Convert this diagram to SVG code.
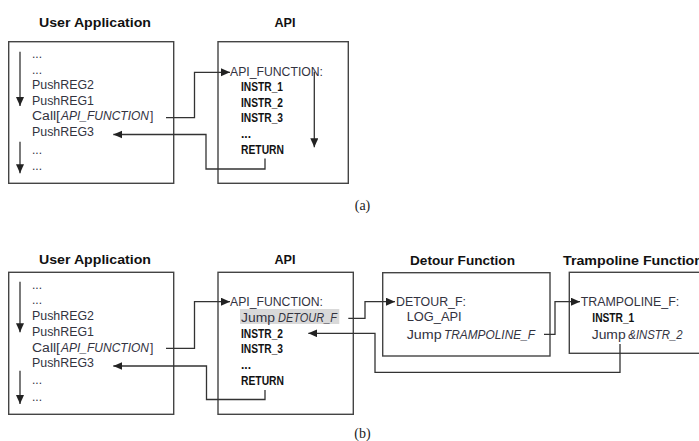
<svg xmlns="http://www.w3.org/2000/svg" width="699" height="441" viewBox="0 0 699 441">
<style>
.box{fill:#fff;stroke:#444;stroke-width:1.4}
.t{font-family:"Liberation Sans",Arial,sans-serif;font-size:12px;fill:#33333f}
.b{font-family:"Liberation Sans",Arial,sans-serif;font-size:12px;font-weight:bold;fill:#111}
.h{font-family:"Liberation Sans",Arial,sans-serif;font-size:13px;font-weight:bold;fill:#111}
.i{font-style:italic}
.c{fill:none;stroke:#333;stroke-width:1.3}
.cap{font-family:"Liberation Serif","Times New Roman",serif;font-size:14px;fill:#222}
</style>
<defs>
<marker id="ah" markerUnits="userSpaceOnUse" markerWidth="10" markerHeight="9" refX="9" refY="4" orient="auto">
<path d="M0,0 L9,4 L0,8 z" fill="#222"/>
</marker>
</defs>
<rect width="699" height="441" fill="#fff"/>

<!-- (a) -->
<g id="userapp-a">
<text class="h" x="39" y="27" textLength="112" lengthAdjust="spacingAndGlyphs">User Application</text>
<rect class="box" x="8.7" y="41.7" width="165" height="141.6"/>
<text class="t" x="32" y="58">...</text>
<text class="t" x="32" y="73.5">...</text>
<text class="t" x="32" y="89" textLength="62" lengthAdjust="spacingAndGlyphs">PushREG2</text>
<text class="t" x="32" y="104.5" textLength="62" lengthAdjust="spacingAndGlyphs">PushREG1</text>
<text class="t" y="120"><tspan x="32" textLength="28" lengthAdjust="spacingAndGlyphs">Call[</tspan><tspan class="i" x="61" textLength="88" lengthAdjust="spacingAndGlyphs">API_FUNCTION</tspan><tspan x="150">]</tspan></text>
<text class="t" x="32" y="135.5" textLength="62" lengthAdjust="spacingAndGlyphs">PushREG3</text>
<text class="t" x="32" y="153.5">...</text>
<text class="t" x="32" y="170">...</text>
<line class="c" x1="20" y1="51.7" x2="20" y2="106" marker-end="url(#ah)"/>
<line class="c" x1="20" y1="141.7" x2="20" y2="173.3" marker-end="url(#ah)"/>
</g>

<g id="api-a">
<text class="h" x="274.5" y="27" textLength="21" lengthAdjust="spacingAndGlyphs">API</text>
<rect class="box" x="218" y="41.7" width="130.3" height="141.6"/>
<text class="t" x="230" y="75.5" textLength="93" lengthAdjust="spacingAndGlyphs">API_FUNCTION:</text>
<text class="b" x="241" y="91" textLength="42" lengthAdjust="spacingAndGlyphs">INSTR_1</text>
<text class="b" x="241" y="106.5" textLength="42" lengthAdjust="spacingAndGlyphs">INSTR_2</text>
<text class="b" x="241" y="122" textLength="42" lengthAdjust="spacingAndGlyphs">INSTR_3</text>
<text class="b" x="241" y="138">...</text>
<text class="b" x="241" y="153.5" textLength="43" lengthAdjust="spacingAndGlyphs">RETURN</text>
<line class="c" x1="314.3" y1="71.7" x2="314.3" y2="147.3" marker-end="url(#ah)"/>
</g>

<g id="connectors-a">
<polyline class="c" points="166,117.7 194.5,117.7 194.5,72.3 230,72.3" marker-end="url(#ah)"/>
<polyline class="c" points="265,158.5 265,169 206,169 206,134.5 113.3,134.5" marker-end="url(#ah)"/>
</g>
<text class="cap" x="362.5" y="210" text-anchor="middle">(a)</text>

<!-- (b) -->
<g id="userapp-b">
<text class="h" x="39" y="263.5" textLength="112" lengthAdjust="spacingAndGlyphs">User Application</text>
<rect class="box" x="8.7" y="272.3" width="165" height="142"/>
<text class="t" x="32" y="288.8">...</text>
<text class="t" x="32" y="304.2">...</text>
<text class="t" x="32" y="320.3" textLength="62" lengthAdjust="spacingAndGlyphs">PushREG2</text>
<text class="t" x="32" y="335.9" textLength="62" lengthAdjust="spacingAndGlyphs">PushREG1</text>
<text class="t" y="351.5"><tspan x="32" textLength="28" lengthAdjust="spacingAndGlyphs">Call[</tspan><tspan class="i" x="61" textLength="88" lengthAdjust="spacingAndGlyphs">API_FUNCTION</tspan><tspan x="150">]</tspan></text>
<text class="t" x="32" y="367" textLength="62" lengthAdjust="spacingAndGlyphs">PushREG3</text>
<text class="t" x="32" y="383.5">...</text>
<text class="t" x="32" y="401">...</text>
<line class="c" x1="20" y1="281.7" x2="20" y2="332.3" marker-end="url(#ah)"/>
<line class="c" x1="20" y1="370.7" x2="20" y2="404" marker-end="url(#ah)"/>
</g>

<g id="api-b">
<text class="h" x="274.5" y="263.5" textLength="21" lengthAdjust="spacingAndGlyphs">API</text>
<rect class="box" x="218" y="272.3" width="135.3" height="142"/>
<text class="t" x="230" y="305.7" textLength="93" lengthAdjust="spacingAndGlyphs">API_FUNCTION:</text>
<rect x="240" y="309" width="99.3" height="15" fill="#d9d9d9"/>
<text class="t" y="321.5"><tspan x="241" textLength="34" lengthAdjust="spacingAndGlyphs">Jump</tspan><tspan class="i" x="278" textLength="59" lengthAdjust="spacingAndGlyphs">DETOUR_F</tspan></text>
<text class="b" x="241" y="337.5" textLength="42" lengthAdjust="spacingAndGlyphs">INSTR_2</text>
<text class="b" x="241" y="353" textLength="42" lengthAdjust="spacingAndGlyphs">INSTR_3</text>
<text class="b" x="241" y="369">...</text>
<text class="b" x="241" y="385" textLength="43" lengthAdjust="spacingAndGlyphs">RETURN</text>
</g>

<g id="detour">
<text class="h" x="410" y="265" textLength="105" lengthAdjust="spacingAndGlyphs">Detour Function</text>
<rect class="box" x="382.7" y="272.7" width="167.3" height="83.3"/>
<text class="t" x="396" y="305.7" textLength="70" lengthAdjust="spacingAndGlyphs">DETOUR_F:</text>
<text class="t" x="406.7" y="321" textLength="55" lengthAdjust="spacingAndGlyphs">LOG_API</text>
<text class="t" y="338.5"><tspan x="406.7" textLength="35" lengthAdjust="spacingAndGlyphs">Jump</tspan><tspan class="i" x="444" textLength="91" lengthAdjust="spacingAndGlyphs">TRAMPOLINE_F</tspan></text>
</g>

<g id="trampoline">
<text class="h" x="563" y="265" textLength="140" lengthAdjust="spacingAndGlyphs">Trampoline Function</text>
<rect class="box" x="569.3" y="272.3" width="150" height="81"/>
<text class="t" x="580.7" y="305.7" textLength="98.6" lengthAdjust="spacingAndGlyphs">TRAMPOLINE_F:</text>
<text class="b" x="592.3" y="321.7" textLength="42" lengthAdjust="spacingAndGlyphs">INSTR_1</text>
<text class="t" y="338.5"><tspan x="591.7" textLength="34" lengthAdjust="spacingAndGlyphs">Jump</tspan><tspan class="i" x="628.3" textLength="54.4" lengthAdjust="spacingAndGlyphs">&amp;INSTR_2</tspan></text>
</g>

<g id="connectors-b">
<polyline class="c" points="166,348.3 194.5,348.3 194.5,301.7 230,301.7" marker-end="url(#ah)"/>
<polyline class="c" points="265,390 265,399.5 206.5,399.5 206.5,366 113.3,366" marker-end="url(#ah)"/>
<polyline class="c" points="348.3,318.3 365,318.3 365,301.7 395,301.7" marker-end="url(#ah)"/>
<polyline class="c" points="544,334.3 555,334.3 555,301.7 580,301.7" marker-end="url(#ah)"/>
<polyline class="c" points="620,344 620,372.3 375,372.3 375,333.3 308.3,333.3" marker-end="url(#ah)"/>
</g>
<text class="cap" x="362.5" y="437.5" text-anchor="middle">(b)</text>
</svg>
